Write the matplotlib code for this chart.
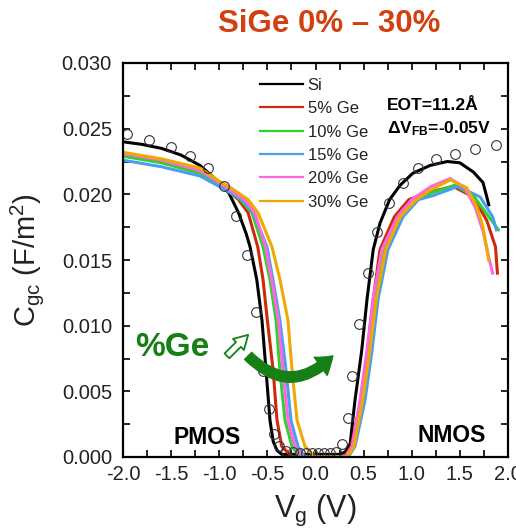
import matplotlib
matplotlib.use("Agg")
import matplotlib.pyplot as plt
from matplotlib.patches import FancyArrowPatch
import numpy as np

plt.rcParams['font.family'] = ['Liberation Sans', 'DejaVu Sans']
plt.rcParams['mathtext.default'] = 'regular'

# measured C-V curves (Vg in V, Cgc in F/m^2)
si_v = [-2.0, -1.8, -1.6, -1.4, -1.2, -1.0, -0.9, -0.8, -0.72, -0.68, -0.61, -0.556, -0.514,
        -0.473, -0.44, -0.40, -0.35, -0.30, 0.0, 0.26, 0.31, 0.36, 0.41, 0.48, 0.535, 0.60,
        0.67, 0.77, 0.88, 1.01, 1.19, 1.37, 1.50, 1.64, 1.74, 1.78, 1.80]
si_c = [0.0240, 0.0238, 0.0235, 0.0230, 0.0222, 0.0209, 0.0201, 0.0186, 0.0170, 0.0160, 0.0135,
        0.0104, 0.0066, 0.0028, 0.0012, 0.0005, 0.0002, 0.0002, 0.0002, 0.0002, 0.0004, 0.0010,
        0.0043, 0.0081, 0.0120, 0.0158, 0.0178, 0.0196, 0.0207, 0.0216, 0.0222, 0.0225, 0.0224,
        0.0217, 0.0209, 0.0198, 0.0192]

ge5_v = [-2.0, -1.6, -1.2, -1.0, -0.9, -0.80, -0.70, -0.60, -0.545, -0.50, -0.44, -0.40, -0.35,
         -0.24, 0.30, 0.37, 0.47, 0.54, 0.60, 0.67, 0.82, 0.97, 1.20, 1.43, 1.64, 1.78, 1.87, 1.89]
ge5_c = [0.0230, 0.0225, 0.0217, 0.0208, 0.0202, 0.0196, 0.0186, 0.0160, 0.0135, 0.0104, 0.0066,
         0.0028, 0.0008, 0.0, 0.0, 0.0008, 0.0043, 0.0081, 0.0120, 0.0158, 0.0183, 0.0196, 0.0202,
         0.0206, 0.0198, 0.0180, 0.0160, 0.0140]

ge10_v = [-2.0, -1.6, -1.2, -1.0, -0.9, -0.78, -0.66, -0.545, -0.473, -0.41, -0.37, -0.317, -0.244,
          -0.16, 0.32, 0.39, 0.485, 0.555, 0.62, 0.72, 0.88, 1.05, 1.20, 1.45, 1.65, 1.80, 1.90]
ge10_c = [0.0229, 0.0224, 0.0216, 0.0207, 0.0202, 0.0196, 0.0186, 0.0160, 0.0135, 0.0104, 0.0066,
          0.0028, 0.0008, 0.0, 0.0, 0.0008, 0.0043, 0.0081, 0.0120, 0.0158, 0.0183, 0.0196, 0.0201,
          0.0207, 0.0198, 0.0183, 0.0173]

ge15_v = [-2.0, -1.6, -1.2, -1.0, -0.9, -0.76, -0.645, -0.504, -0.442, -0.37, -0.306, -0.255, -0.182,
          -0.11, 0.34, 0.41, 0.514, 0.587, 0.65, 0.753, 0.91, 1.07, 1.22, 1.48, 1.71, 1.84, 1.88]
ge15_c = [0.0226, 0.0221, 0.0214, 0.0206, 0.0202, 0.0196, 0.0186, 0.0160, 0.0135, 0.0104, 0.0066,
          0.0028, 0.0008, 0.0, 0.0, 0.0008, 0.0043, 0.0081, 0.0120, 0.0158, 0.0183, 0.0196, 0.0199,
          0.0206, 0.0198, 0.0183, 0.0173]

ge20_v = [-2.0, -1.6, -1.2, -1.0, -0.9, -0.74, -0.63, -0.52, -0.455, -0.385, -0.338, -0.286, -0.213,
          -0.13, 0.31, 0.38, 0.462, 0.535, 0.597, 0.69, 0.85, 1.00, 1.20, 1.40, 1.55, 1.66, 1.74,
          1.80, 1.84]
ge20_c = [0.0231, 0.0226, 0.0218, 0.0209, 0.0204, 0.0196, 0.0186, 0.0160, 0.0135, 0.0104, 0.0066,
          0.0028, 0.0008, 0.0, 0.0, 0.0008, 0.0043, 0.0081, 0.0120, 0.0158, 0.0183, 0.0196, 0.0206,
          0.0212, 0.0205, 0.0190, 0.0172, 0.0152, 0.0140]

ge30_v = [-2.0, -1.6, -1.2, -1.0, -0.9, -0.70, -0.597, -0.452, -0.369, -0.286, -0.244, -0.192, -0.109,
          0.0, 0.33, 0.40, 0.49, 0.565, 0.63, 0.73, 0.88, 1.05, 1.19, 1.40, 1.57, 1.68, 1.74, 1.80]
ge30_c = [0.0232, 0.0227, 0.0220, 0.0210, 0.0206, 0.0196, 0.0186, 0.0160, 0.0135, 0.0104, 0.0066,
          0.0028, 0.0008, 0.0, 0.0, 0.0008, 0.0043, 0.0081, 0.0120, 0.0158, 0.0183, 0.0196, 0.0203,
          0.0211, 0.0205, 0.0190, 0.0175, 0.0150]

# simulated Si points (open circles)
sim_v = [-1.958, -1.730, -1.501, -1.304, -1.117, -0.951, -0.826, -0.712, -0.618, -0.545, -0.483,
         -0.431, -0.379, -0.306, -0.234, -0.161, -0.099, -0.036, 0.026, 0.088, 0.151, 0.213, 0.275,
         0.338, 0.379, 0.452, 0.545, 0.639, 0.764, 0.909, 1.065, 1.252, 1.449, 1.657, 1.875]
sim_c = [0.02459, 0.02414, 0.02360, 0.02292, 0.02200, 0.02063, 0.01835, 0.01538, 0.01104, 0.00655,
         0.00365, 0.00175, 0.00084, 0.00046, 0.00038, 0.00030, 0.00030, 0.00030, 0.00030, 0.00030,
         0.00030, 0.00035, 0.00099, 0.00297, 0.00617, 0.01013, 0.01401, 0.01713, 0.01934, 0.02086,
         0.02200, 0.02269, 0.02307, 0.02345, 0.02376]

labels = ['Si', '5% Ge', '10% Ge', '15% Ge', '20% Ge', '30% Ge']
colors = ['#000000', '#cc2a0a', '#2ed12e', '#4a9ef0', '#ff66e0', '#eeaa00']
curves = [(si_v, si_c), (ge5_v, ge5_c), (ge10_v, ge10_c), (ge15_v, ge15_c),
          (ge20_v, ge20_c), (ge30_v, ge30_c)]

green = '#168016'

fig = plt.figure(figsize=(5.16, 5.31), dpi=100)
ax = fig.add_axes([123 / 516, 1 - 457 / 531, 385 / 516, 394 / 531])

for (v, c), lab, col in zip(curves, labels, colors):
    ax.plot(v, c, color=col, lw=2.2, label=lab)

ax.plot(sim_v, sim_c, 'o', mfc='none', mec='#333333', ms=7, mew=0.8)

ax.set_xlim(-2.0, 2.0)
ax.set_ylim(0.0, 0.030)
ax.set_xticks(np.arange(-2.0, 2.01, 0.5))
ax.set_xticks(np.arange(-1.75, 2.0, 0.5), minor=True)
ax.set_yticks(np.arange(0.0, 0.0301, 0.005))
ax.set_yticks(np.arange(0.0025, 0.030, 0.005), minor=True)
ax.set_xticklabels(['%.1f' % t for t in np.arange(-2.0, 2.01, 0.5)])
ax.set_yticklabels(['%.3f' % t for t in np.arange(0.0, 0.0301, 0.005)])
ax.tick_params(which='both', direction='in', top=True, right=True, length=5, width=1.2,
               labelsize=14.5, labelcolor='#222222')
ax.tick_params(axis='x', pad=6)
ax.tick_params(axis='y', pad=8)
for s in ax.spines.values():
    s.set_linewidth(1.6)

ax.set_xlabel('$V_g$ (V)', fontsize=22, color='#222222')
ax.set_ylabel('$C_{gc}$ (F/m$^2$)', fontsize=21, color='#222222')
ax.xaxis.set_label_coords(0.5, -0.09)
ax.yaxis.set_label_coords(-0.2, 0.5)

leg = ax.legend(loc='upper left', bbox_to_anchor=(0.356, 0.962), frameon=False, fontsize=12,
                borderpad=0, handlelength=2.6, handletextpad=0.25, labelspacing=0.5,
                borderaxespad=0)
for ln in leg.get_lines():
    ln.set_linewidth(1.6)
for t in leg.get_texts():
    t.set_color('#222222')

ax.text(0.686, 0.893, 'EOT=11.2Å', transform=ax.transAxes, fontsize=12.5, fontweight='bold',
        va='center', ha='left')
ax.text(0.686, 0.833, 'ΔV$_{FB}$=-0.05V', transform=ax.transAxes, fontsize=12.5,
        fontweight='bold', va='center', ha='left')

ax.text(-1.13, 0.0015, 'PMOS', fontsize=16.5, fontweight='bold', ha='center', va='center')
ax.text(1.42, 0.0016, 'NMOS', fontsize=16.5, fontweight='bold', ha='center', va='center')

ax.text(-1.49, 0.0083, '%Ge', fontsize=24, fontweight='bold', color=green,
        ha='center', va='center')
ax.annotate('', xy=(-0.70, 0.0093), xytext=(-0.92, 0.0077),
            arrowprops=dict(arrowstyle='simple,head_length=0.7,head_width=0.8,tail_width=0.35',
                            fc='white', ec=green, lw=1.3, mutation_scale=14,
                            shrinkA=0, shrinkB=0))
ax.add_patch(FancyArrowPatch((-0.70, 0.0077), (0.18, 0.0077),
                             connectionstyle='arc3,rad=0.5',
                             arrowstyle='simple,head_width=1.6,head_length=1.15,tail_width=0.72',
                             mutation_scale=10, color=green, shrinkA=0, shrinkB=0, zorder=5))

fig.text(329 / 516, 1 - 24 / 531, 'SiGe 0% – 30%', fontsize=22.5, fontweight='bold',
         color='#d2400f', ha='center', va='center')

fig.savefig('out.png', dpi=100)
